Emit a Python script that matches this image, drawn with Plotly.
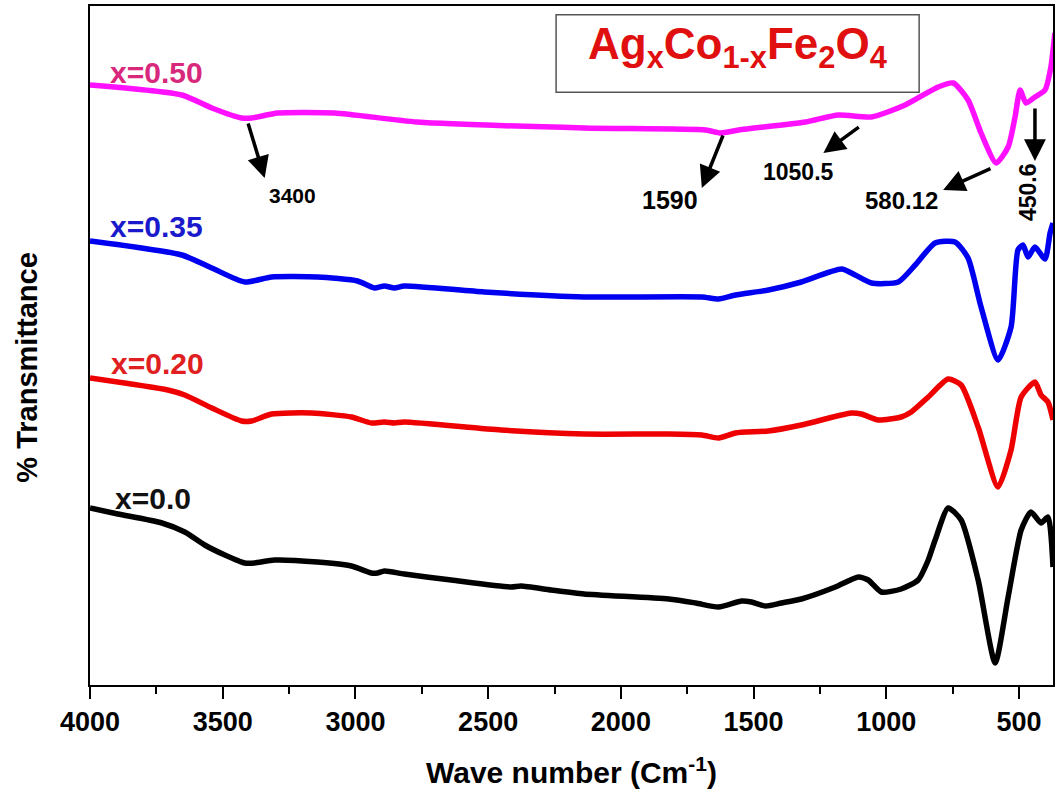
import plotly.graph_objects as go

# ---- data (wavenumber cm^-1, transmittance in arbitrary offset units) ----
wn_x000 = [4000, 3895, 3729, 3643, 3568, 3492, 3417, 3380, 3305, 3143, 3015, 2940, 2917, 2891, 2816,
           2639, 2414, 2376, 2263, 2139, 1820, 1718, 1632, 1545, 1508, 1455, 1395, 1320, 1192, 1105,
           1068, 1019, 944, 880, 842, 816, 767, 718, 654, 590, 541, 492, 455, 417, 391, 372]
t_x000 = [177, 171, 162, 153, 140, 130, 122, 122, 125, 123, 119, 112, 112, 114, 111,
          105, 98, 99, 95, 91, 86, 82, 78, 84, 83, 79, 82, 86, 98, 108,
          105, 93, 96, 105, 125, 145, 177, 165, 105, 22, 88, 155, 173, 162, 168, 118]

wn_x020 = [4000, 3707, 3643, 3541, 3429, 3391, 3316, 3165, 3015, 2940, 2891, 2853, 2816, 2451, 2139,
           1820, 1695, 1632, 1568, 1444, 1320, 1132, 1094, 1030, 944, 906, 842, 767, 718, 654,
           579, 530, 492, 440, 417, 391, 372]
t_x020 = [307, 295, 290, 277, 264, 264, 271, 272, 268, 262, 263, 262, 263, 255, 251,
          251, 250, 247, 252, 254, 260, 272, 271, 265, 268, 273, 288, 306, 300, 258,
          198, 235, 288, 303, 290, 283, 265]

wn_x035 = [4000, 3654, 3541, 3417, 3316, 3143, 2992, 2929, 2891, 2853, 2816, 2515, 2139, 1695, 1632,
           1568, 1444, 1320, 1169, 1117, 1056, 955, 891, 816, 741, 692, 643, 579, 530, 504,
           485, 466, 440, 402, 383, 372]
t_x035 = [444, 430, 417, 403, 408, 408, 404, 397, 399, 397, 399, 393, 388, 388, 386,
          390, 395, 403, 416, 410, 402, 403, 420, 442, 443, 427, 378, 325, 358, 435,
          440, 428, 438, 426, 452, 462]

wn_x050 = [4000, 3654, 3541, 3429, 3391, 3293, 3079, 2767, 2139, 1680, 1624, 1556, 1304, 1180, 1056,
           929, 805, 748, 692, 643, 586, 541, 515, 496, 474, 440, 402, 380, 365]
t_x050 = [600, 590, 577, 567, 567, 572, 572, 563, 557, 555, 552, 555, 563, 570, 568,
          580, 598, 602, 585, 552, 522, 538, 568, 595, 582, 588, 595, 618, 652]

series_names = ["x=0.0", "x=0.20", "x=0.35", "x=0.50"]
series_colors = ["#000000", "#ee0000", "#0000f0", "#ff10ff"]
label_colors = ["#111111", "#e02020", "#1a1acc", "#d8287c"]
series_wn = [wn_x000, wn_x020, wn_x035, wn_x050]
series_t = [t_x000, t_x020, t_x035, t_x050]

# label anchor positions (wavenumber, transmittance)
label_wn = [3915, 3928, 3932, 3932]
label_t = [187, 322, 459, 613]

# peak annotations: text, arrow tail (on curve), arrow head, text position
peak_text = ["3400", "1590", "1050.5", "580.12", "450.6"]
peak_tail_wn = [3406, 1613, 1098, 602, 440]
peak_tail_t = [563, 551, 559, 517, 578]
peak_head_wn = [3342, 1695, 1237, 786, 440]
peak_head_t = [507, 497, 532, 495, 524]
peak_lbl_wn = [3238, 1815, 1331, 944, 466]
peak_lbl_t = [490, 485, 513, 485, 493]
peak_lbl_size = [21, 25, 23, 24, 23]
peak_lbl_angle = [0, 0, 0, 0, -90]

x_ticks = [4000, 3500, 3000, 2500, 2000, 1500, 1000, 500]

FONT = "Liberation Sans, Arial, sans-serif"

fig = go.Figure()
for name, col, wn, t in zip(series_names, series_colors, series_wn, series_t):
    fig.add_trace(go.Scatter(x=wn, y=t, mode="lines", name=name,
                             line=dict(color=col, width=5.5, shape="spline", smoothing=0.6),
                             showlegend=False))

annotations = []
for name, col, lx, ly in zip(series_names, label_colors, label_wn, label_t):
    annotations.append(dict(x=lx, y=ly, xref="x", yref="y", text=name, showarrow=False,
                            xanchor="left", yanchor="middle",
                            font=dict(family=FONT, size=30, color=col, weight="bold")))

for txt, tx, ty, hx, hy, lx, ly, sz, ang in zip(peak_text, peak_tail_wn, peak_tail_t,
                                                 peak_head_wn, peak_head_t, peak_lbl_wn,
                                                 peak_lbl_t, peak_lbl_size, peak_lbl_angle):
    annotations.append(dict(x=hx, y=hy, xref="x", yref="y", ax=tx, ay=ty, axref="x", ayref="y",
                            text="", showarrow=True, arrowhead=2, arrowsize=1.25, arrowwidth=3.5,
                            arrowcolor="black"))
    annotations.append(dict(x=lx, y=ly, xref="x", yref="y", text=txt, showarrow=False,
                            textangle=ang, xanchor="center", yanchor="middle",
                            font=dict(family=FONT, size=sz, color="black", weight="bold")))

annotations.append(dict(x=0.672, y=0.94, xref="paper", yref="paper",
                        text="Ag<sub>x</sub>Co<sub>1-x</sub>Fe<sub>2</sub>O<sub>4</sub>",
                        showarrow=False, xanchor="center", yanchor="middle",
                        font=dict(family=FONT, size=44, color="#e01010", weight="bold")))

annotations.append(dict(x=-0.065, y=0.468, xref="paper", yref="paper",
                        text="% Transmittance", textangle=-90, showarrow=False,
                        xanchor="center", yanchor="middle",
                        font=dict(family=FONT, size=29, color="black", weight="bold")))

fig.update_layout(
    width=1057, height=794,
    margin=dict(l=90, r=2, t=6, b=109),
    plot_bgcolor="white", paper_bgcolor="white",
    annotations=annotations,
    shapes=[dict(type="rect", xref="paper", yref="paper", x0=0.484, x1=0.861, y0=0.873, y1=0.987,
                 line=dict(color="#555555", width=1.5), fillcolor="rgba(0,0,0,0)")],
    xaxis=dict(range=[4000, 372], tickvals=x_ticks, ticktext=[str(v) for v in x_ticks],
               ticks="outside", ticklen=12, tickwidth=2, tickcolor="black",
               showline=True, linewidth=2, linecolor="black", mirror=True, showgrid=False,
               zeroline=False,
               minor=dict(dtick=250, tick0=0, ticks="outside", ticklen=7, tickwidth=2,
                          tickcolor="black", showgrid=False),
               tickfont=dict(family=FONT, size=27, color="black", weight="bold"),
               title=dict(text="Wave number (Cm<sup>-1</sup>)", standoff=26,
                          font=dict(family=FONT, size=30, color="black", weight="bold"))),
    yaxis=dict(range=[0, 679], showticklabels=False, ticks="", showgrid=False, zeroline=False,
               showline=True, linewidth=2, linecolor="black", mirror=True),
)

fig.write_html("out.html")
